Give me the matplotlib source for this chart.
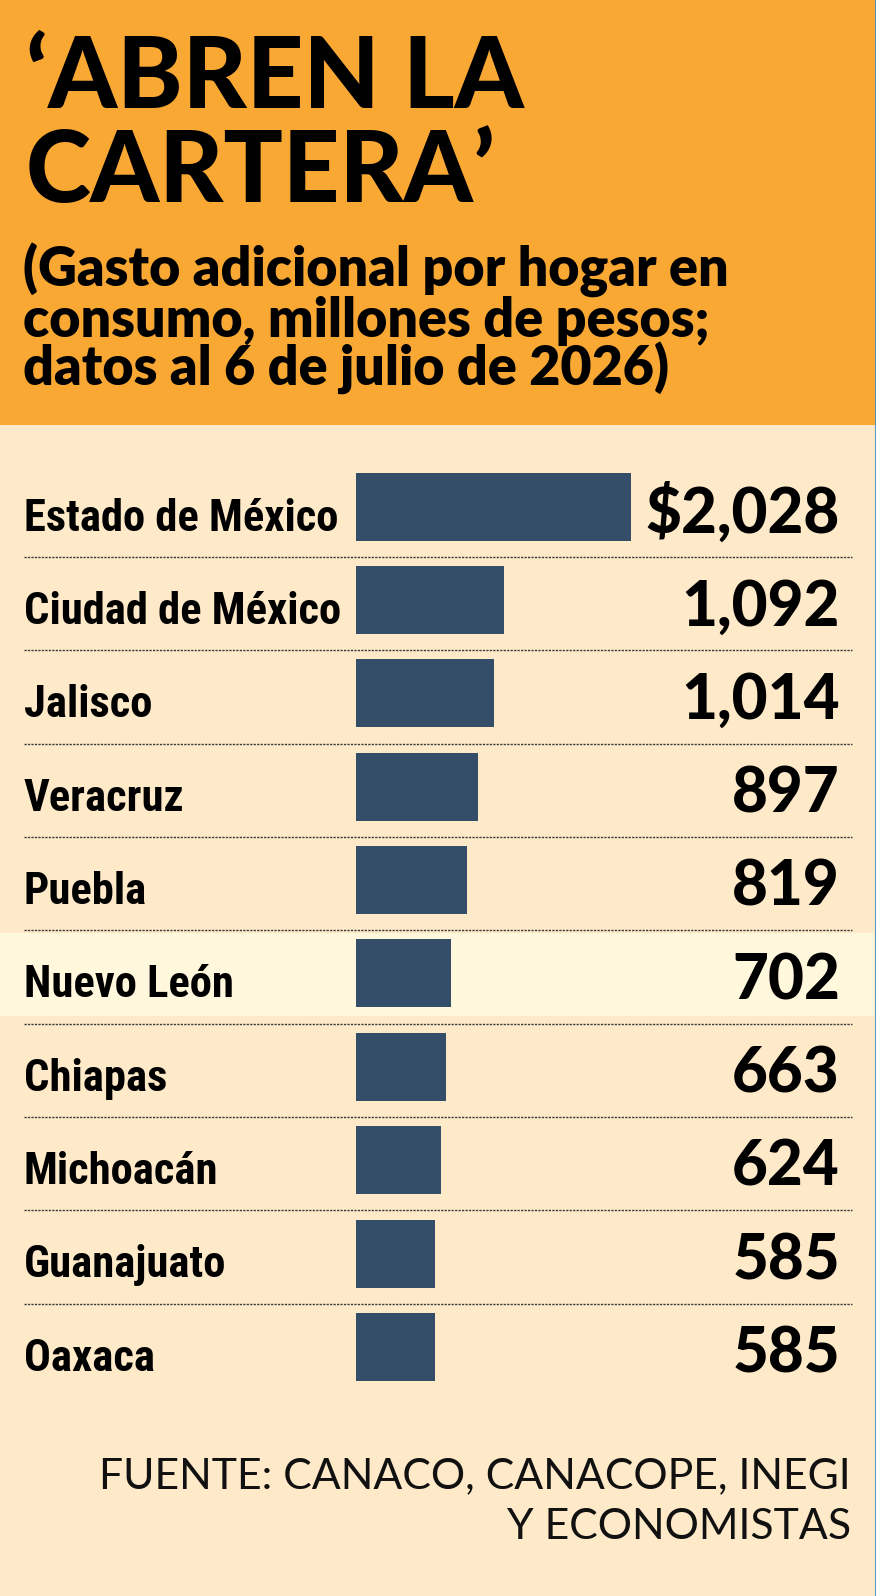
import matplotlib
matplotlib.use("Agg")
import matplotlib.pyplot as plt
import matplotlib.font_manager as fm
from matplotlib.patches import Rectangle
from matplotlib.lines import Line2D
import matplotlib.transforms as mtransforms

# datos
estados = ["Estado de México", "Ciudad de México", "Jalisco", "Veracruz", "Puebla",
           "Nuevo León", "Chiapas", "Michoacán", "Guanajuato", "Oaxaca"]
gasto = [2028, 1092, 1014, 897, 819, 702, 663, 624, 585, 585]
etiquetas = ["$2,028", "1,092", "1,014", "897", "819", "702", "663", "624", "585", "585"]
resaltado = "Nuevo León"

titulo = ["‘ABREN LA", "CARTERA’"]
subtitulo = ["(Gasto adicional por hogar en", "consumo, millones de pesos;",
             "datos al 6 de julio de 2026)"]
fuente = ["FUENTE: CANACO, CANACOPE, INEGI", "Y ECONOMISTAS"]

NARANJA = "#F9A834"
CREMA = "#FEE9C8"
AMARILLO = "#FFF8DC"
AZUL = "#344E6A"

W, H = 876, 1596
fig = plt.figure(figsize=(W / 100, H / 100), dpi=100, facecolor=CREMA)
renderer = fig.canvas.get_renderer()

# fuente condensada para los nombres, si hay alguna
nombres = {f.name for f in fm.fontManager.ttflist}
dejavu_cond = any(f.name == "DejaVu Sans" and f.stretch == "condensed" for f in fm.fontManager.ttflist)
if "Roboto Condensed" in nombres:
    cond = dict(family="Roboto Condensed", weight="bold")
elif "Liberation Sans Narrow" in nombres:
    cond = dict(family="Liberation Sans Narrow", weight="bold")
elif dejavu_cond:
    cond = dict(family="DejaVu Sans", stretch="condensed", weight="bold")
else:
    cond = dict(family="Roboto", weight="bold")

def ajusta(txt, ancho, **kw):
    # tamaño de letra para que el texto mida 'ancho' pixeles
    t = fig.text(0, 0, txt, fontsize=50, **kw)
    w = t.get_window_extent(renderer).width
    t.remove()
    return 50 * ancho / w

def fy(y):
    return 1 - y / H

# encabezado
fig.patches.append(Rectangle((0, fy(425)), 1, 425 / H, transform=fig.transFigure,
                             facecolor=NARANJA, edgecolor="none", zorder=0))
fig.add_artist(Line2D([875.5 / W, 875.5 / W], [0, 1], color="#3A85C2", lw=1.2))

st_tit = dict(family="Lato", weight="black", color="black")
s = min(ajusta(titulo[0], 518, **st_tit), 71)
fig.text(26 / W, fy(108), titulo[0], fontsize=s, va="baseline", **st_tit)
fig.text(26 / W, fy(202), titulo[1], fontsize=s, va="baseline", **st_tit)

st_sub = dict(family="Lato", weight="heavy", color="black")
s = ajusta(subtitulo[0], 706, **st_sub)
for k, linea in enumerate(subtitulo):
    fig.text(23 / W, fy(287 + 49.5 * k), linea, fontsize=s, va="baseline", **st_sub)

# barras
paso = 93.35
top = 506.7 - paso / 2
ax = fig.add_axes([356 / W, fy(top + paso * len(estados)), 275 / W, paso * len(estados) / H])
ax.set_xlim(0, max(gasto))
ax.set_ylim(len(estados) - 0.5, -0.5)
ax.axis("off")
ypos = list(range(len(estados)))
ax.barh(ypos, gasto, height=68 / paso, color=AZUL, zorder=3)

tr = mtransforms.blended_transform_factory(fig.transFigure, ax.transData)
s_cat = min(ajusta(estados[1], 318, **cond), 40)
st_val = dict(family="Lato", weight="black", color="black")
s_val = ajusta(etiquetas[0], 195, **st_val)

for i, (nom, et) in enumerate(zip(estados, etiquetas)):
    if nom == resaltado:
        ax.add_patch(Rectangle((0, i - 0.434), 874 / W, 0.889, transform=tr,
                               facecolor=AMARILLO, edgecolor="none", zorder=1, clip_on=False))
    ax.text(24 / W, i + 0.255, nom, transform=tr, fontsize=s_cat, va="baseline",
            ha="left", color="black", **cond)
    ax.text(840 / W, i + 0.275, et, transform=tr, fontsize=s_val, va="baseline",
            ha="right", **st_val)
    if i < len(estados) - 1:
        ax.plot([24 / W, 852 / W], [i + 0.539, i + 0.539], transform=tr, color="#3a3a3a",
                lw=1, ls=(0, (1.6, 0.9)), clip_on=False, zorder=2)

# fuente
st_f = dict(family="Lato", weight="normal", color="#111111")
s = ajusta(fuente[0], 754, **st_f)
fig.text(851 / W, fy(1488), fuente[0], fontsize=s, ha="right", va="baseline", **st_f)
fig.text(851 / W, fy(1539), fuente[1], fontsize=s, ha="right", va="baseline", **st_f)

fig.savefig("out.png", dpi=100, facecolor=CREMA)
